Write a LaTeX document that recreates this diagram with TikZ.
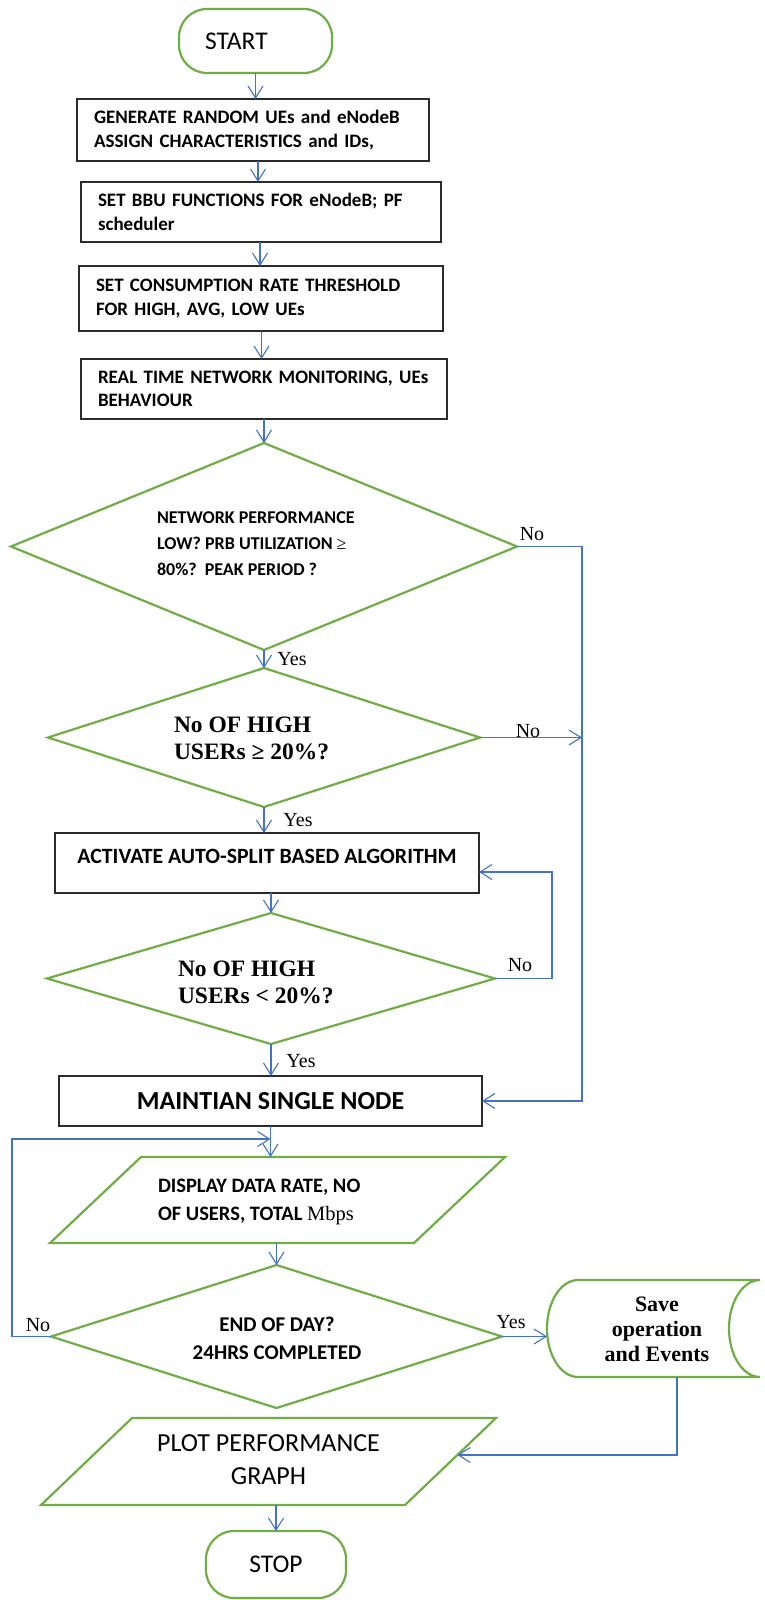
\documentclass[tikz,border=0pt]{standalone}
\usepackage{fontspec}
\setmainfont{Carlito}
\newfontfamily\tnr{Liberation Serif}
\usetikzlibrary{shapes.geometric,arrows.meta,calc}
\definecolor{flowgreen}{HTML}{70AD47}
\definecolor{flowblue}{HTML}{4472C4}
\definecolor{boxline}{HTML}{2B2B2B}

\begin{document}
\begin{tikzpicture}[x=1pt,y=1pt,
  every node/.style={outer sep=0pt},
  term/.style={draw=flowgreen, line width=2.2pt, rounded corners=28pt, inner ysep=0pt},
  procbox/.style={draw=boxline, line width=1.5pt, inner xsep=17pt, inner ysep=0pt,
                  font=\bfseries\fontsize{19}{23.5}\selectfont},
  decision/.style={diamond, draw=flowgreen, line width=2.2pt, inner sep=0pt},
  frame/.style={rectangle, draw=none, inner sep=0pt},
  gshape/.style={draw=flowgreen, line width=2.2pt, line join=miter},
  flowline/.style={draw=flowblue, line width=1.1pt},
  arr/.style={flowline, -{Straight Barb[length=12pt,width=15pt]}},
  yn/.style={inner sep=0pt, font=\tnr\fontsize{20}{22}\selectfont},
  cmt/.style={inner sep=0pt, align=left, font=\bfseries\fontsize{18}{26}\selectfont}
]
\useasboundingbox[fill=white] (0,0) rectangle (764,-1600);

% ---------- terminals and process boxes ----------
\node[term, minimum width=153pt, minimum height=64pt, text width=101pt, inner xsep=26pt,
      align=left, font=\fontsize{25.5}{28}\selectfont] (start) at (255.5,-41) {START};

\node[procbox, align=left, minimum width=352pt, minimum height=62pt, text width=318pt]
  (box1) at (253,-130) {GENERATE RANDOM UEs and eNodeB\\ASSIGN CHARACTERISTICS and IDs,};
\node[procbox, align=left, minimum width=360pt, minimum height=60pt, text width=326pt]
  (box2) at (261,-212) {SET BBU FUNCTIONS FOR eNodeB; PF\\scheduler};
\node[procbox, align=left, minimum width=364pt, minimum height=65pt, text width=330pt]
  (box3) at (261,-298.5) {SET CONSUMPTION RATE THRESHOLD\\FOR HIGH, AVG, LOW UEs};
\node[procbox, align=left, minimum width=366pt, minimum height=60pt, text width=332pt]
  (box4) at (264,-389) {REAL TIME NETWORK MONITORING, UEs\\BEHAVIOUR};

% ---------- decisions ----------
\node[decision, minimum width=506pt, minimum height=207pt] (d1) at (264,-546.5) {};
\node[cmt, anchor=west] (d1t) at (157,-544)
  {NETWORK PERFORMANCE\\LOW? PRB UTILIZATION {\tnr\mdseries ≥}\\80\%?\ \ PEAK PERIOD ?};

\node[decision, minimum width=432pt, minimum height=139pt] (d2) at (264,-737.5) {};
\node[inner sep=0pt, align=left, anchor=west, font=\tnr\bfseries\fontsize{23.5}{27}\selectfont]
  (d2t) at (174,-738.5) {No OF HIGH\\USERs ≥ 20\%?};

\node[procbox, minimum width=424pt, minimum height=60pt, text height=15pt, text depth=15pt,
      font=\bfseries\fontsize{21.8}{24}\selectfont]
  (box5) at (267,-863) {ACTIVATE AUTO-SPLIT BASED ALGORITHM};

\node[decision, minimum width=448pt, minimum height=131pt] (d3) at (271,-978.5) {};
\node[inner sep=0pt, align=left, anchor=west, font=\tnr\bfseries\fontsize{23.5}{27}\selectfont]
  (d3t) at (178,-982) {No OF HIGH\\USERs < 20\%?};

\node[procbox, minimum width=423pt, minimum height=50pt,
      font=\bfseries\fontsize{26}{28}\selectfont]
  (box6) at (270.5,-1101) {MAINTIAN SINGLE NODE};

% ---------- output, end-of-day test, storage ----------
\node[frame, minimum width=455pt, minimum height=86pt] (p1) at (277.5,-1200) {};
\draw[gshape] ([xshift=91pt]p1.north west) -- (p1.north east)
  -- ([xshift=-91pt]p1.south east) -- (p1.south west) -- cycle;
\node[cmt, anchor=west, font=\bfseries\fontsize{20.5}{28}\selectfont] (p1t) at (158,-1202)
  {DISPLAY DATA RATE, NO\\OF USERS, TOTAL {\tnr\mdseries Mbps}};

\node[decision, minimum width=451pt, minimum height=143pt] (d4) at (276.5,-1336.5) {};
\node[cmt, align=center, font=\bfseries\fontsize{21}{28}\selectfont] (d4t) at (277,-1338)
  {END OF DAY?\\24HRS COMPLETED};

\node[frame, minimum width=213pt, minimum height=97pt] (save) at (653.5,-1328.5) {};
\draw[gshape] ([xshift=31pt]save.north west) -- (save.north east)
  arc[start angle=90, end angle=270, x radius=31, y radius=48.5]
  -- ([xshift=31pt]save.south west)
  arc[start angle=270, end angle=90, x radius=31, y radius=48.5] -- cycle;
\node[inner sep=0pt, align=center, font=\tnr\bfseries\fontsize{22}{25}\selectfont]
  (savet) at (657,-1329) {Save\\operation\\and Events};

\node[frame, minimum width=455pt, minimum height=87pt] (p2) at (268.5,-1461.5) {};
\draw[gshape] ([xshift=91pt]p2.north west) -- (p2.north east)
  -- ([xshift=-91pt]p2.south east) -- (p2.south west) -- cycle;
\node[inner sep=0pt, align=center, font=\fontsize{26}{33}\selectfont] (p2t) at (268.5,-1459.5)
  {PLOT PERFORMANCE\\GRAPH};

\node[term, minimum width=140pt, minimum height=67pt, font=\fontsize{25.5}{28}\selectfont]
  (stop) at (276,-1564.5) {STOP};

% ---------- connector columns ----------
\coordinate (c1) at (258,0);
\coordinate (c2) at (260,0);
\coordinate (c3) at (261.5,0);
\coordinate (rail) at (582,0);
\coordinate (loop3) at (552,0);
\coordinate (loop4) at (12,0);
\coordinate (savedrop) at (677,0);
\coordinate (merge) at (270.5,-1139);
\coordinate (p2in) at ($(p2.north east)!0.425!([xshift=-91pt]p2.south east)$);

% ---------- connectors ----------
\draw[arr] (start.south) -- (box1.north -| start.south);
\draw[arr] (box1.south -| c1) -- (box2.north -| c1);
\draw[arr] (box2.south -| c2) -- (box3.north -| c2);
\draw[arr] (box3.south -| c3) -- (box4.north -| c3);
\draw[arr] (box4.south -| d1.north) -- (d1.north);
\draw[arr] (d1.south) -- (d2.north);
\draw[arr] (d1.east) -- (d1.east -| rail) |- (box6.east);
\draw[arr] (d2.east) -- (d2.east -| rail);
\draw[arr] (d2.south) -- (d2.south |- box5.north);
\draw[arr] (box5.south -| d3.north) -- (d3.north);
\draw[arr] (d3.east) -- (d3.east -| loop3) |- ([yshift=-9pt]box5.east);
\draw[arr] (d3.south) -- (d3.south |- box6.north);
\draw[arr] (box6.south) -- (box6.south |- p1.north);
\draw[arr] (d4.west) -- (d4.west -| loop4) |- (merge);
\draw[arr] (p1.south -| d4.north) -- (d4.north);
\draw[arr] (d4.east) -- (d4.east -| save.west);
\draw[arr] (save.south -| savedrop) |- (p2in);
\draw[arr] (stop.north |- p2.south) -- (stop.north);

% ---------- branch labels ----------
\node[yn] (no1)  at (532,-534)   {No};
\node[yn] (yes1) at (292,-659)   {Yes};
\node[yn] (no2)  at (528,-731)   {No};
\node[yn] (yes2) at (298,-820)   {Yes};
\node[yn] (no3)  at (520,-965)   {No};
\node[yn] (yes3) at (301,-1061)  {Yes};
\node[yn] (no4)  at (38,-1325)   {No};
\node[yn] (yes4) at (511,-1322)  {Yes};
\end{tikzpicture}
\end{document}
